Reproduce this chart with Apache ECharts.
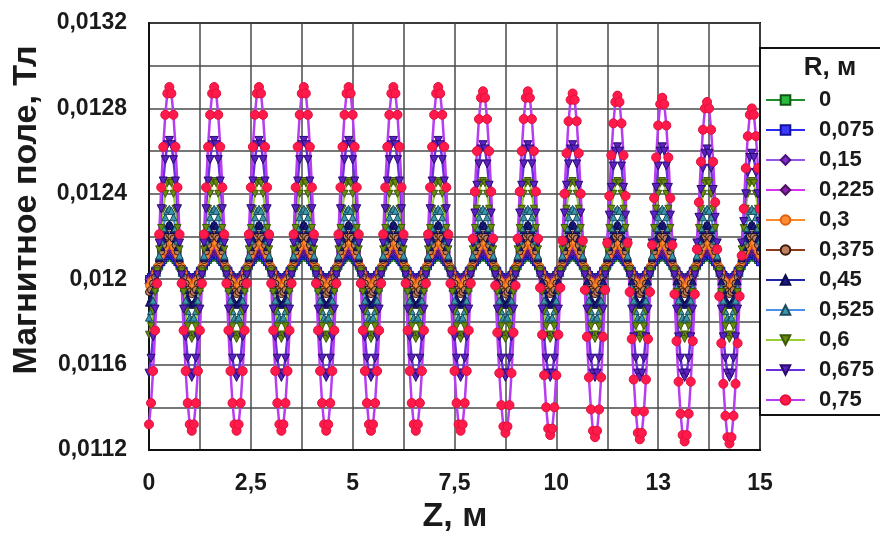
<!DOCTYPE html>
<html>
<head>
<meta charset="utf-8">
<title>Магнитное поле</title>
<script src="https://cdn.jsdelivr.net/npm/echarts@6/dist/echarts.min.js"></script>
<style>
html,body{margin:0;padding:0;background:#fff;}
#chart{width:880px;height:533px;}
</style>
</head>
<body>
<div id="chart"></div>
<script>
// Z, м (шаг 0,05)
const zValues = [
0,0.05,0.1,0.15,0.2,0.25,0.3,0.35,0.4,0.45,0.5,0.55,0.6,0.65,0.7,0.75,0.8,0.85,0.9,0.95,
1,1.05,1.1,1.15,1.2,1.25,1.3,1.35,1.4,1.45,1.5,1.55,1.6,1.65,1.7,1.75,1.8,1.85,1.9,1.95,
2,2.05,2.1,2.15,2.2,2.25,2.3,2.35,2.4,2.45,2.5,2.55,2.6,2.65,2.7,2.75,2.8,2.85,2.9,2.95,
3,3.05,3.1,3.15,3.2,3.25,3.3,3.35,3.4,3.45,3.5,3.55,3.6,3.65,3.7,3.75,3.8,3.85,3.9,3.95,
4,4.05,4.1,4.15,4.2,4.25,4.3,4.35,4.4,4.45,4.5,4.55,4.6,4.65,4.7,4.75,4.8,4.85,4.9,4.95,
5,5.05,5.1,5.15,5.2,5.25,5.3,5.35,5.4,5.45,5.5,5.55,5.6,5.65,5.7,5.75,5.8,5.85,5.9,5.95,
6,6.05,6.1,6.15,6.2,6.25,6.3,6.35,6.4,6.45,6.5,6.55,6.6,6.65,6.7,6.75,6.8,6.85,6.9,6.95,
7,7.05,7.1,7.15,7.2,7.25,7.3,7.35,7.4,7.45,7.5,7.55,7.6,7.65,7.7,7.75,7.8,7.85,7.9,7.95,
8,8.05,8.1,8.15,8.2,8.25,8.3,8.35,8.4,8.45,8.5,8.55,8.6,8.65,8.7,8.75,8.8,8.85,8.9,8.95,
9,9.05,9.1,9.15,9.2,9.25,9.3,9.35,9.4,9.45,9.5,9.55,9.6,9.65,9.7,9.75,9.8,9.85,9.9,9.95,
10,10.05,10.1,10.15,10.2,10.25,10.3,10.35,10.4,10.45,10.5,10.55,10.6,10.65,10.7,10.75,10.8,10.85,10.9,10.95,
11,11.05,11.1,11.15,11.2,11.25,11.3,11.35,11.4,11.45,11.5,11.55,11.6,11.65,11.7,11.75,11.8,11.85,11.9,11.95,
12,12.05,12.1,12.15,12.2,12.25,12.3,12.35,12.4,12.45,12.5,12.55,12.6,12.65,12.7,12.75,12.8,12.85,12.9,12.95,
13,13.05,13.1,13.15,13.2,13.25,13.3,13.35,13.4,13.45,13.5,13.55,13.6,13.65,13.7,13.75,13.8,13.85,13.9,13.95,
14,14.05,14.1,14.15,14.2,14.25,14.3,14.35,14.4,14.45,14.5,14.55,14.6,14.65,14.7,14.75,14.8,14.85,14.9,14.95,
15
];

const seriesNames = ['0', '0,075', '0,15', '0,225', '0,3', '0,375', '0,45', '0,525', '0,6', '0,675', '0,75'];

// Магнитное поле, Тл
const bR000 = [
0.01200,0.01201,0.01202,0.01203,0.01205,0.01206,0.01208,0.01209,0.01210,0.01211,0.01211,0.01211,0.01210,0.01209,0.01208,0.01206,0.01205,0.01203,0.01202,0.01201,0.01200,0.01200,
0.01200,0.01201,0.01202,0.01203,0.01205,0.01206,0.01208,0.01209,0.01210,0.01211,0.01211,0.01211,0.01210,0.01209,0.01208,0.01206,0.01205,0.01203,0.01202,0.01201,0.01200,0.01200,
0.01200,0.01201,0.01202,0.01203,0.01205,0.01206,0.01208,0.01209,0.01210,0.01211,0.01211,0.01211,0.01210,0.01209,0.01208,0.01206,0.01205,0.01203,0.01202,0.01201,0.01200,0.01200,
0.01200,0.01201,0.01202,0.01203,0.01205,0.01206,0.01208,0.01209,0.01210,0.01211,0.01211,0.01211,0.01210,0.01209,0.01208,0.01206,0.01205,0.01203,0.01202,0.01201,0.01200,0.01200,
0.01200,0.01201,0.01202,0.01203,0.01205,0.01206,0.01208,0.01209,0.01210,0.01211,0.01211,0.01211,0.01210,0.01209,0.01208,0.01206,0.01205,0.01203,0.01202,0.01201,0.01200,0.01200,
0.01200,0.01201,0.01202,0.01203,0.01205,0.01206,0.01208,0.01209,0.01210,0.01211,0.01211,0.01211,0.01210,0.01209,0.01208,0.01206,0.01205,0.01203,0.01202,0.01201,0.01200,0.01200,
0.01200,0.01201,0.01202,0.01203,0.01205,0.01206,0.01208,0.01209,0.01210,0.01211,0.01211,0.01211,0.01210,0.01209,0.01208,0.01206,0.01205,0.01203,0.01202,0.01201,0.01200,0.01200,
0.01200,0.01201,0.01202,0.01203,0.01205,0.01206,0.01208,0.01209,0.01210,0.01211,0.01211,0.01211,0.01210,0.01209,0.01208,0.01206,0.01205,0.01203,0.01202,0.01201,0.01200,0.01200,
0.01200,0.01201,0.01202,0.01203,0.01205,0.01206,0.01208,0.01209,0.01210,0.01211,0.01211,0.01211,0.01210,0.01209,0.01208,0.01206,0.01205,0.01203,0.01202,0.01201,0.01200,0.01200,
0.01200,0.01201,0.01202,0.01203,0.01205,0.01206,0.01208,0.01209,0.01210,0.01211,0.01211,0.01211,0.01210,0.01209,0.01208,0.01206,0.01205,0.01203,0.01202,0.01201,0.01200,0.01200,
0.01200,0.01201,0.01202,0.01203,0.01205,0.01206,0.01208,0.01209,0.01210,0.01211,0.01211,0.01211,0.01210,0.01209,0.01208,0.01206,0.01205,0.01203,0.01202,0.01201,0.01200,0.01200,
0.01200,0.01201,0.01202,0.01203,0.01205,0.01206,0.01208,0.01209,0.01210,0.01211,0.01211,0.01211,0.01210,0.01209,0.01208,0.01206,0.01205,0.01203,0.01202,0.01201,0.01200,0.01200,
0.01200,0.01201,0.01202,0.01203,0.01205,0.01206,0.01208,0.01209,0.01210,0.01211,0.01211,0.01211,0.01210,0.01209,0.01208,0.01206,0.01205,0.01203,0.01202,0.01201,0.01200,0.01200,
0.01200,0.01201,0.01202,0.01203,0.01205,0.01206,0.01208,0.01209,0.01210,0.01211,0.01211,0.01211,0.01210,0.01209,0.01208
];
const bR075 = [
0.01200,0.01201,0.01202,0.01204,0.01205,0.01207,0.01208,0.01210,0.01211,0.01212,0.01212,0.01212,0.01211,0.01210,0.01208,0.01207,0.01205,0.01204,0.01202,0.01201,0.01200,0.01200,
0.01200,0.01201,0.01202,0.01204,0.01205,0.01207,0.01208,0.01210,0.01211,0.01212,0.01212,0.01212,0.01211,0.01210,0.01208,0.01207,0.01205,0.01204,0.01202,0.01201,0.01200,0.01200,
0.01200,0.01201,0.01202,0.01204,0.01205,0.01207,0.01208,0.01210,0.01211,0.01212,0.01212,0.01212,0.01211,0.01210,0.01208,0.01207,0.01205,0.01204,0.01202,0.01201,0.01200,0.01200,
0.01200,0.01201,0.01202,0.01204,0.01205,0.01207,0.01208,0.01210,0.01211,0.01212,0.01212,0.01212,0.01211,0.01210,0.01208,0.01207,0.01205,0.01204,0.01202,0.01201,0.01200,0.01200,
0.01200,0.01201,0.01202,0.01204,0.01205,0.01207,0.01208,0.01210,0.01211,0.01212,0.01212,0.01212,0.01211,0.01210,0.01208,0.01207,0.01205,0.01204,0.01202,0.01201,0.01200,0.01200,
0.01200,0.01201,0.01202,0.01204,0.01205,0.01207,0.01208,0.01210,0.01211,0.01212,0.01212,0.01212,0.01211,0.01210,0.01208,0.01207,0.01205,0.01204,0.01202,0.01201,0.01200,0.01200,
0.01200,0.01201,0.01202,0.01204,0.01205,0.01207,0.01208,0.01210,0.01211,0.01212,0.01212,0.01212,0.01211,0.01210,0.01208,0.01207,0.01205,0.01204,0.01202,0.01201,0.01200,0.01200,
0.01200,0.01201,0.01202,0.01204,0.01205,0.01207,0.01208,0.01210,0.01211,0.01212,0.01212,0.01212,0.01211,0.01210,0.01208,0.01207,0.01205,0.01204,0.01202,0.01201,0.01200,0.01200,
0.01200,0.01201,0.01202,0.01204,0.01205,0.01207,0.01208,0.01210,0.01211,0.01212,0.01212,0.01212,0.01211,0.01210,0.01208,0.01207,0.01205,0.01204,0.01202,0.01201,0.01200,0.01200,
0.01200,0.01201,0.01202,0.01204,0.01205,0.01207,0.01208,0.01210,0.01211,0.01212,0.01212,0.01212,0.01211,0.01210,0.01208,0.01207,0.01205,0.01204,0.01202,0.01201,0.01200,0.01200,
0.01200,0.01201,0.01202,0.01204,0.01205,0.01207,0.01208,0.01210,0.01211,0.01212,0.01212,0.01212,0.01211,0.01210,0.01208,0.01207,0.01205,0.01204,0.01202,0.01201,0.01200,0.01200,
0.01200,0.01201,0.01202,0.01204,0.01205,0.01207,0.01208,0.01210,0.01211,0.01212,0.01212,0.01212,0.01211,0.01210,0.01208,0.01207,0.01205,0.01204,0.01202,0.01201,0.01200,0.01200,
0.01200,0.01201,0.01202,0.01204,0.01205,0.01207,0.01208,0.01210,0.01211,0.01212,0.01212,0.01212,0.01211,0.01210,0.01208,0.01207,0.01205,0.01204,0.01202,0.01201,0.01200,0.01200,
0.01200,0.01201,0.01202,0.01204,0.01205,0.01207,0.01208,0.01210,0.01211,0.01212,0.01212,0.01212,0.01211,0.01210,0.01208
];
const bR150 = [
0.01200,0.01201,0.01202,0.01204,0.01206,0.01207,0.01209,0.01211,0.01212,0.01213,0.01213,0.01213,0.01212,0.01211,0.01209,0.01207,0.01206,0.01204,0.01202,0.01201,0.01200,0.01200,
0.01200,0.01201,0.01202,0.01204,0.01206,0.01207,0.01209,0.01211,0.01212,0.01213,0.01213,0.01213,0.01212,0.01211,0.01209,0.01207,0.01206,0.01204,0.01202,0.01201,0.01200,0.01200,
0.01200,0.01201,0.01202,0.01204,0.01206,0.01207,0.01209,0.01211,0.01212,0.01213,0.01213,0.01213,0.01212,0.01211,0.01209,0.01207,0.01206,0.01204,0.01202,0.01201,0.01200,0.01200,
0.01200,0.01201,0.01202,0.01204,0.01206,0.01207,0.01209,0.01211,0.01212,0.01213,0.01213,0.01213,0.01212,0.01211,0.01209,0.01207,0.01206,0.01204,0.01202,0.01201,0.01200,0.01200,
0.01200,0.01201,0.01202,0.01204,0.01206,0.01207,0.01209,0.01211,0.01212,0.01213,0.01213,0.01213,0.01212,0.01211,0.01209,0.01207,0.01206,0.01204,0.01202,0.01201,0.01200,0.01200,
0.01200,0.01201,0.01202,0.01204,0.01206,0.01207,0.01209,0.01211,0.01212,0.01213,0.01213,0.01213,0.01212,0.01211,0.01209,0.01207,0.01206,0.01204,0.01202,0.01201,0.01200,0.01200,
0.01200,0.01201,0.01202,0.01204,0.01206,0.01207,0.01209,0.01211,0.01212,0.01213,0.01213,0.01213,0.01212,0.01211,0.01209,0.01207,0.01206,0.01204,0.01202,0.01201,0.01200,0.01200,
0.01200,0.01201,0.01202,0.01204,0.01206,0.01207,0.01209,0.01211,0.01212,0.01213,0.01213,0.01213,0.01212,0.01211,0.01209,0.01207,0.01206,0.01204,0.01202,0.01201,0.01200,0.01200,
0.01200,0.01201,0.01202,0.01204,0.01206,0.01207,0.01209,0.01211,0.01212,0.01213,0.01213,0.01213,0.01212,0.01211,0.01209,0.01207,0.01206,0.01204,0.01202,0.01201,0.01200,0.01200,
0.01200,0.01201,0.01202,0.01204,0.01206,0.01207,0.01209,0.01211,0.01212,0.01213,0.01213,0.01213,0.01212,0.01211,0.01209,0.01207,0.01206,0.01204,0.01202,0.01201,0.01200,0.01200,
0.01200,0.01201,0.01202,0.01204,0.01206,0.01207,0.01209,0.01211,0.01212,0.01213,0.01213,0.01213,0.01212,0.01211,0.01209,0.01207,0.01206,0.01204,0.01202,0.01201,0.01200,0.01200,
0.01200,0.01201,0.01202,0.01204,0.01206,0.01207,0.01209,0.01211,0.01212,0.01213,0.01213,0.01213,0.01212,0.01211,0.01209,0.01207,0.01206,0.01204,0.01202,0.01201,0.01200,0.01200,
0.01200,0.01201,0.01202,0.01204,0.01206,0.01207,0.01209,0.01211,0.01212,0.01213,0.01213,0.01213,0.01212,0.01211,0.01209,0.01207,0.01206,0.01204,0.01202,0.01201,0.01200,0.01200,
0.01200,0.01201,0.01202,0.01204,0.01206,0.01207,0.01209,0.01211,0.01212,0.01213,0.01213,0.01213,0.01212,0.01211,0.01209
];
const bR225 = [
0.01198,0.01199,0.01201,0.01203,0.01205,0.01207,0.01209,0.01211,0.01213,0.01214,0.01214,0.01214,0.01213,0.01211,0.01209,0.01207,0.01205,0.01203,0.01201,0.01199,0.01198,0.01198,
0.01198,0.01199,0.01201,0.01203,0.01205,0.01207,0.01209,0.01211,0.01213,0.01214,0.01214,0.01214,0.01213,0.01211,0.01209,0.01207,0.01205,0.01203,0.01201,0.01199,0.01198,0.01198,
0.01198,0.01199,0.01201,0.01203,0.01205,0.01207,0.01209,0.01211,0.01213,0.01214,0.01214,0.01214,0.01213,0.01211,0.01209,0.01207,0.01205,0.01203,0.01201,0.01199,0.01198,0.01198,
0.01198,0.01199,0.01201,0.01203,0.01205,0.01207,0.01209,0.01211,0.01213,0.01214,0.01214,0.01214,0.01213,0.01211,0.01209,0.01207,0.01205,0.01203,0.01201,0.01199,0.01198,0.01198,
0.01198,0.01199,0.01201,0.01203,0.01205,0.01207,0.01209,0.01211,0.01213,0.01214,0.01214,0.01214,0.01213,0.01211,0.01209,0.01207,0.01205,0.01203,0.01201,0.01199,0.01198,0.01198,
0.01198,0.01199,0.01201,0.01203,0.01205,0.01207,0.01209,0.01211,0.01213,0.01214,0.01214,0.01214,0.01213,0.01211,0.01209,0.01207,0.01205,0.01203,0.01201,0.01199,0.01198,0.01198,
0.01198,0.01199,0.01201,0.01203,0.01205,0.01207,0.01209,0.01211,0.01213,0.01214,0.01214,0.01214,0.01213,0.01211,0.01209,0.01207,0.01205,0.01203,0.01201,0.01199,0.01198,0.01198,
0.01198,0.01199,0.01201,0.01203,0.01205,0.01207,0.01209,0.01211,0.01213,0.01214,0.01214,0.01214,0.01213,0.01211,0.01209,0.01207,0.01205,0.01203,0.01201,0.01199,0.01198,0.01198,
0.01198,0.01199,0.01201,0.01203,0.01205,0.01207,0.01209,0.01211,0.01213,0.01214,0.01214,0.01214,0.01213,0.01211,0.01209,0.01207,0.01205,0.01203,0.01201,0.01199,0.01198,0.01198,
0.01198,0.01199,0.01201,0.01203,0.01205,0.01207,0.01209,0.01211,0.01213,0.01214,0.01214,0.01214,0.01213,0.01211,0.01209,0.01207,0.01205,0.01203,0.01201,0.01199,0.01198,0.01198,
0.01198,0.01199,0.01201,0.01203,0.01205,0.01207,0.01209,0.01211,0.01213,0.01214,0.01214,0.01214,0.01213,0.01211,0.01209,0.01207,0.01205,0.01203,0.01201,0.01199,0.01198,0.01198,
0.01198,0.01199,0.01201,0.01203,0.01205,0.01207,0.01209,0.01211,0.01213,0.01214,0.01214,0.01214,0.01213,0.01211,0.01209,0.01207,0.01205,0.01203,0.01201,0.01199,0.01198,0.01198,
0.01198,0.01199,0.01201,0.01203,0.01205,0.01207,0.01209,0.01211,0.01213,0.01214,0.01214,0.01214,0.01213,0.01211,0.01209,0.01207,0.01205,0.01203,0.01201,0.01199,0.01198,0.01198,
0.01198,0.01199,0.01201,0.01203,0.01205,0.01207,0.01209,0.01211,0.01213,0.01214,0.01214,0.01214,0.01213,0.01211,0.01209
];
const bR300 = [
0.01197,0.01199,0.01200,0.01203,0.01206,0.01208,0.01211,0.01213,0.01215,0.01217,0.01217,0.01217,0.01215,0.01213,0.01211,0.01208,0.01206,0.01203,0.01200,0.01199,0.01197,0.01197,
0.01197,0.01199,0.01200,0.01203,0.01206,0.01208,0.01211,0.01213,0.01215,0.01217,0.01217,0.01217,0.01215,0.01213,0.01211,0.01208,0.01206,0.01203,0.01200,0.01199,0.01197,0.01197,
0.01197,0.01199,0.01200,0.01203,0.01206,0.01208,0.01211,0.01213,0.01215,0.01217,0.01217,0.01217,0.01215,0.01213,0.01211,0.01208,0.01206,0.01203,0.01200,0.01199,0.01197,0.01197,
0.01197,0.01199,0.01200,0.01203,0.01206,0.01208,0.01211,0.01213,0.01215,0.01217,0.01217,0.01217,0.01215,0.01213,0.01211,0.01208,0.01206,0.01203,0.01200,0.01199,0.01197,0.01197,
0.01197,0.01199,0.01200,0.01203,0.01206,0.01208,0.01211,0.01213,0.01215,0.01217,0.01217,0.01217,0.01215,0.01213,0.01211,0.01208,0.01206,0.01203,0.01200,0.01199,0.01197,0.01197,
0.01197,0.01199,0.01200,0.01203,0.01206,0.01208,0.01211,0.01213,0.01215,0.01217,0.01217,0.01217,0.01215,0.01213,0.01211,0.01208,0.01206,0.01203,0.01200,0.01199,0.01197,0.01197,
0.01197,0.01199,0.01200,0.01203,0.01206,0.01208,0.01211,0.01213,0.01215,0.01217,0.01217,0.01217,0.01215,0.01213,0.01211,0.01208,0.01206,0.01203,0.01200,0.01199,0.01197,0.01197,
0.01197,0.01199,0.01200,0.01203,0.01206,0.01208,0.01211,0.01213,0.01215,0.01217,0.01217,0.01217,0.01215,0.01213,0.01211,0.01208,0.01206,0.01203,0.01200,0.01199,0.01197,0.01197,
0.01197,0.01199,0.01200,0.01203,0.01206,0.01208,0.01211,0.01213,0.01215,0.01217,0.01217,0.01217,0.01215,0.01213,0.01211,0.01208,0.01206,0.01203,0.01200,0.01199,0.01197,0.01197,
0.01197,0.01199,0.01200,0.01203,0.01206,0.01208,0.01211,0.01213,0.01215,0.01217,0.01217,0.01217,0.01215,0.01213,0.01211,0.01208,0.01206,0.01203,0.01200,0.01199,0.01197,0.01197,
0.01197,0.01199,0.01200,0.01203,0.01206,0.01208,0.01211,0.01213,0.01215,0.01217,0.01217,0.01217,0.01215,0.01213,0.01211,0.01208,0.01206,0.01203,0.01200,0.01199,0.01197,0.01197,
0.01197,0.01199,0.01200,0.01203,0.01206,0.01208,0.01211,0.01213,0.01215,0.01217,0.01217,0.01217,0.01215,0.01213,0.01211,0.01208,0.01206,0.01203,0.01200,0.01199,0.01197,0.01197,
0.01197,0.01199,0.01200,0.01203,0.01206,0.01208,0.01211,0.01213,0.01215,0.01217,0.01217,0.01217,0.01215,0.01213,0.01211,0.01208,0.01206,0.01203,0.01200,0.01199,0.01197,0.01197,
0.01197,0.01199,0.01200,0.01203,0.01206,0.01208,0.01211,0.01213,0.01215,0.01217,0.01217,0.01217,0.01215,0.01213,0.01211
];
const bR375 = [
0.01194,0.01195,0.01198,0.01201,0.01205,0.01209,0.01213,0.01216,0.01219,0.01220,0.01221,0.01220,0.01219,0.01216,0.01213,0.01209,0.01205,0.01201,0.01198,0.01195,0.01194,0.01193,
0.01194,0.01195,0.01198,0.01201,0.01205,0.01209,0.01213,0.01216,0.01219,0.01220,0.01221,0.01220,0.01219,0.01216,0.01213,0.01209,0.01205,0.01201,0.01198,0.01195,0.01194,0.01193,
0.01194,0.01195,0.01198,0.01201,0.01205,0.01209,0.01213,0.01216,0.01219,0.01220,0.01221,0.01220,0.01219,0.01216,0.01213,0.01209,0.01205,0.01201,0.01198,0.01195,0.01194,0.01193,
0.01194,0.01195,0.01198,0.01201,0.01205,0.01209,0.01213,0.01216,0.01219,0.01220,0.01221,0.01220,0.01219,0.01216,0.01213,0.01209,0.01205,0.01201,0.01198,0.01195,0.01194,0.01193,
0.01194,0.01195,0.01198,0.01201,0.01205,0.01209,0.01213,0.01216,0.01219,0.01220,0.01221,0.01220,0.01219,0.01216,0.01213,0.01209,0.01205,0.01201,0.01198,0.01195,0.01194,0.01193,
0.01194,0.01195,0.01198,0.01201,0.01205,0.01209,0.01213,0.01216,0.01219,0.01220,0.01221,0.01220,0.01219,0.01216,0.01213,0.01209,0.01205,0.01201,0.01198,0.01195,0.01194,0.01193,
0.01194,0.01195,0.01198,0.01201,0.01205,0.01209,0.01213,0.01216,0.01219,0.01220,0.01221,0.01220,0.01219,0.01216,0.01213,0.01209,0.01205,0.01201,0.01198,0.01195,0.01194,0.01193,
0.01194,0.01195,0.01198,0.01201,0.01205,0.01209,0.01213,0.01216,0.01219,0.01220,0.01221,0.01220,0.01219,0.01216,0.01213,0.01209,0.01205,0.01201,0.01198,0.01195,0.01194,0.01193,
0.01194,0.01195,0.01198,0.01201,0.01205,0.01209,0.01213,0.01216,0.01219,0.01220,0.01221,0.01220,0.01219,0.01216,0.01213,0.01209,0.01205,0.01201,0.01198,0.01195,0.01194,0.01193,
0.01194,0.01195,0.01198,0.01201,0.01205,0.01209,0.01213,0.01216,0.01219,0.01220,0.01221,0.01220,0.01219,0.01216,0.01213,0.01209,0.01205,0.01201,0.01198,0.01195,0.01194,0.01193,
0.01194,0.01195,0.01198,0.01201,0.01205,0.01209,0.01213,0.01216,0.01219,0.01220,0.01221,0.01220,0.01219,0.01216,0.01213,0.01209,0.01205,0.01201,0.01198,0.01195,0.01194,0.01193,
0.01194,0.01195,0.01198,0.01201,0.01205,0.01209,0.01213,0.01216,0.01219,0.01220,0.01221,0.01220,0.01219,0.01216,0.01213,0.01209,0.01205,0.01201,0.01198,0.01195,0.01194,0.01193,
0.01194,0.01195,0.01198,0.01201,0.01205,0.01209,0.01213,0.01216,0.01219,0.01220,0.01221,0.01220,0.01219,0.01216,0.01213,0.01209,0.01205,0.01201,0.01198,0.01195,0.01194,0.01193,
0.01194,0.01195,0.01198,0.01201,0.01205,0.01209,0.01213,0.01216,0.01219,0.01220,0.01221,0.01220,0.01219,0.01216,0.01213
];
const bR450 = [
0.01189,0.01191,0.01195,0.01199,0.01204,0.01210,0.01215,0.01219,0.01223,0.01225,0.01226,0.01225,0.01223,0.01219,0.01215,0.01210,0.01204,0.01199,0.01195,0.01191,0.01189,0.01188,
0.01189,0.01191,0.01195,0.01199,0.01204,0.01210,0.01215,0.01219,0.01223,0.01225,0.01226,0.01225,0.01223,0.01219,0.01215,0.01210,0.01204,0.01199,0.01195,0.01191,0.01189,0.01188,
0.01189,0.01191,0.01195,0.01199,0.01204,0.01210,0.01215,0.01219,0.01223,0.01225,0.01226,0.01225,0.01223,0.01219,0.01215,0.01210,0.01204,0.01199,0.01195,0.01191,0.01189,0.01188,
0.01189,0.01191,0.01195,0.01199,0.01204,0.01210,0.01215,0.01219,0.01223,0.01225,0.01226,0.01225,0.01223,0.01219,0.01215,0.01210,0.01204,0.01199,0.01195,0.01191,0.01189,0.01188,
0.01189,0.01191,0.01195,0.01199,0.01204,0.01210,0.01215,0.01219,0.01223,0.01225,0.01226,0.01225,0.01223,0.01219,0.01215,0.01210,0.01204,0.01199,0.01195,0.01191,0.01189,0.01188,
0.01189,0.01191,0.01195,0.01199,0.01204,0.01210,0.01215,0.01219,0.01223,0.01225,0.01226,0.01225,0.01223,0.01219,0.01215,0.01210,0.01204,0.01199,0.01195,0.01191,0.01189,0.01188,
0.01189,0.01191,0.01195,0.01199,0.01204,0.01210,0.01215,0.01219,0.01223,0.01225,0.01226,0.01225,0.01223,0.01219,0.01215,0.01210,0.01204,0.01199,0.01195,0.01191,0.01189,0.01188,
0.01189,0.01191,0.01195,0.01199,0.01204,0.01210,0.01215,0.01219,0.01223,0.01225,0.01226,0.01225,0.01223,0.01219,0.01215,0.01210,0.01204,0.01199,0.01195,0.01191,0.01189,0.01188,
0.01189,0.01191,0.01195,0.01199,0.01204,0.01210,0.01215,0.01219,0.01223,0.01225,0.01226,0.01225,0.01223,0.01219,0.01215,0.01210,0.01204,0.01199,0.01195,0.01191,0.01189,0.01188,
0.01189,0.01191,0.01195,0.01199,0.01204,0.01210,0.01215,0.01219,0.01223,0.01225,0.01226,0.01225,0.01223,0.01219,0.01215,0.01210,0.01204,0.01199,0.01195,0.01191,0.01189,0.01188,
0.01189,0.01191,0.01195,0.01199,0.01204,0.01210,0.01215,0.01219,0.01223,0.01225,0.01226,0.01225,0.01223,0.01219,0.01215,0.01210,0.01204,0.01199,0.01195,0.01191,0.01189,0.01188,
0.01189,0.01191,0.01195,0.01199,0.01204,0.01210,0.01215,0.01219,0.01223,0.01225,0.01226,0.01225,0.01223,0.01219,0.01215,0.01210,0.01204,0.01199,0.01195,0.01191,0.01189,0.01188,
0.01189,0.01191,0.01195,0.01199,0.01204,0.01210,0.01215,0.01219,0.01223,0.01225,0.01226,0.01225,0.01223,0.01219,0.01215,0.01210,0.01204,0.01199,0.01195,0.01191,0.01189,0.01188,
0.01189,0.01191,0.01195,0.01199,0.01204,0.01210,0.01215,0.01219,0.01223,0.01225,0.01226,0.01225,0.01223,0.01219,0.01215
];
const bR525 = [
0.01182,0.01185,0.01190,0.01196,0.01203,0.01211,0.01218,0.01224,0.01229,0.01232,0.01233,0.01232,0.01229,0.01224,0.01218,0.01211,0.01203,0.01196,0.01190,0.01185,0.01182,0.01181,
0.01182,0.01185,0.01190,0.01196,0.01203,0.01211,0.01218,0.01224,0.01229,0.01232,0.01233,0.01232,0.01229,0.01224,0.01218,0.01211,0.01203,0.01196,0.01190,0.01185,0.01182,0.01181,
0.01182,0.01185,0.01190,0.01196,0.01203,0.01211,0.01218,0.01224,0.01229,0.01232,0.01233,0.01232,0.01229,0.01224,0.01218,0.01211,0.01203,0.01196,0.01190,0.01185,0.01182,0.01181,
0.01182,0.01185,0.01190,0.01196,0.01203,0.01211,0.01218,0.01224,0.01229,0.01232,0.01233,0.01232,0.01229,0.01224,0.01218,0.01211,0.01203,0.01196,0.01190,0.01185,0.01182,0.01181,
0.01182,0.01185,0.01190,0.01196,0.01203,0.01211,0.01218,0.01224,0.01229,0.01232,0.01233,0.01232,0.01229,0.01224,0.01218,0.01211,0.01203,0.01196,0.01190,0.01185,0.01182,0.01181,
0.01182,0.01185,0.01190,0.01196,0.01203,0.01211,0.01218,0.01224,0.01229,0.01232,0.01233,0.01232,0.01229,0.01224,0.01218,0.01211,0.01203,0.01196,0.01190,0.01185,0.01182,0.01181,
0.01182,0.01185,0.01190,0.01196,0.01203,0.01211,0.01218,0.01224,0.01229,0.01232,0.01233,0.01232,0.01229,0.01224,0.01218,0.01211,0.01203,0.01196,0.01190,0.01185,0.01182,0.01181,
0.01182,0.01185,0.01190,0.01196,0.01203,0.01211,0.01218,0.01224,0.01229,0.01232,0.01233,0.01232,0.01229,0.01224,0.01218,0.01211,0.01203,0.01196,0.01190,0.01185,0.01182,0.01181,
0.01182,0.01185,0.01190,0.01196,0.01203,0.01211,0.01218,0.01224,0.01229,0.01232,0.01233,0.01232,0.01229,0.01224,0.01218,0.01211,0.01203,0.01196,0.01190,0.01185,0.01182,0.01181,
0.01182,0.01185,0.01190,0.01196,0.01203,0.01211,0.01218,0.01224,0.01229,0.01232,0.01233,0.01232,0.01229,0.01224,0.01218,0.01211,0.01203,0.01196,0.01190,0.01185,0.01182,0.01181,
0.01182,0.01185,0.01190,0.01196,0.01203,0.01211,0.01218,0.01224,0.01229,0.01232,0.01233,0.01232,0.01229,0.01224,0.01218,0.01211,0.01203,0.01196,0.01190,0.01185,0.01182,0.01181,
0.01182,0.01185,0.01190,0.01196,0.01203,0.01211,0.01218,0.01224,0.01229,0.01232,0.01233,0.01232,0.01229,0.01224,0.01218,0.01211,0.01203,0.01196,0.01190,0.01185,0.01182,0.01181,
0.01182,0.01185,0.01190,0.01196,0.01203,0.01211,0.01218,0.01224,0.01229,0.01232,0.01233,0.01232,0.01229,0.01224,0.01218,0.01211,0.01203,0.01196,0.01190,0.01185,0.01182,0.01181,
0.01182,0.01185,0.01190,0.01196,0.01203,0.01211,0.01218,0.01224,0.01229,0.01232,0.01233,0.01232,0.01229,0.01224,0.01218
];
const bR600 = [
0.01174,0.01178,0.01185,0.01194,0.01204,0.01214,0.01224,0.01233,0.01240,0.01245,0.01246,0.01245,0.01240,0.01233,0.01224,0.01214,0.01204,0.01194,0.01185,0.01178,0.01174,0.01172,
0.01174,0.01178,0.01185,0.01194,0.01204,0.01214,0.01224,0.01233,0.01240,0.01245,0.01246,0.01245,0.01240,0.01233,0.01224,0.01214,0.01204,0.01194,0.01185,0.01178,0.01174,0.01172,
0.01174,0.01178,0.01185,0.01194,0.01204,0.01214,0.01224,0.01233,0.01240,0.01245,0.01246,0.01245,0.01240,0.01233,0.01224,0.01214,0.01204,0.01194,0.01185,0.01178,0.01174,0.01172,
0.01174,0.01178,0.01185,0.01194,0.01204,0.01214,0.01224,0.01233,0.01240,0.01245,0.01246,0.01245,0.01240,0.01233,0.01224,0.01214,0.01204,0.01194,0.01185,0.01178,0.01174,0.01172,
0.01174,0.01178,0.01185,0.01194,0.01204,0.01214,0.01224,0.01233,0.01240,0.01245,0.01246,0.01245,0.01240,0.01233,0.01224,0.01214,0.01204,0.01194,0.01185,0.01178,0.01174,0.01172,
0.01174,0.01178,0.01185,0.01194,0.01204,0.01214,0.01224,0.01233,0.01240,0.01245,0.01246,0.01245,0.01240,0.01233,0.01224,0.01214,0.01204,0.01194,0.01185,0.01178,0.01174,0.01172,
0.01174,0.01178,0.01185,0.01194,0.01204,0.01214,0.01224,0.01233,0.01240,0.01245,0.01246,0.01245,0.01240,0.01233,0.01224,0.01214,0.01204,0.01194,0.01185,0.01178,0.01174,0.01172,
0.01174,0.01178,0.01185,0.01194,0.01204,0.01214,0.01224,0.01233,0.01240,0.01245,0.01246,0.01245,0.01240,0.01233,0.01224,0.01214,0.01204,0.01194,0.01185,0.01178,0.01174,0.01172,
0.01174,0.01178,0.01185,0.01194,0.01204,0.01214,0.01224,0.01233,0.01240,0.01245,0.01246,0.01245,0.01240,0.01233,0.01224,0.01214,0.01204,0.01194,0.01185,0.01178,0.01174,0.01172,
0.01174,0.01178,0.01185,0.01194,0.01204,0.01214,0.01224,0.01233,0.01240,0.01245,0.01246,0.01245,0.01240,0.01233,0.01224,0.01214,0.01204,0.01194,0.01185,0.01178,0.01174,0.01172,
0.01174,0.01178,0.01185,0.01194,0.01204,0.01214,0.01224,0.01233,0.01240,0.01245,0.01246,0.01245,0.01240,0.01233,0.01224,0.01214,0.01204,0.01194,0.01185,0.01178,0.01174,0.01172,
0.01174,0.01178,0.01185,0.01194,0.01204,0.01214,0.01224,0.01233,0.01240,0.01245,0.01246,0.01245,0.01240,0.01233,0.01224,0.01214,0.01204,0.01194,0.01185,0.01178,0.01174,0.01172,
0.01174,0.01178,0.01185,0.01194,0.01204,0.01214,0.01224,0.01233,0.01240,0.01245,0.01246,0.01245,0.01240,0.01233,0.01224,0.01214,0.01204,0.01194,0.01185,0.01178,0.01174,0.01172,
0.01174,0.01178,0.01185,0.01194,0.01204,0.01214,0.01224,0.01233,0.01240,0.01245,0.01246,0.01245,0.01240,0.01233,0.01224
];
const bR675 = [
0.01156,0.01163,0.01173,0.01186,0.01202,0.01217,0.01233,0.01246,0.01256,0.01263,0.01265,0.01263,0.01256,0.01246,0.01233,0.01217,0.01202,0.01186,0.01173,0.01163,0.01156,0.01154,
0.01156,0.01163,0.01173,0.01186,0.01202,0.01217,0.01233,0.01246,0.01256,0.01263,0.01265,0.01263,0.01256,0.01246,0.01233,0.01217,0.01202,0.01186,0.01173,0.01163,0.01156,0.01154,
0.01156,0.01163,0.01173,0.01186,0.01202,0.01217,0.01233,0.01246,0.01256,0.01263,0.01265,0.01263,0.01256,0.01246,0.01233,0.01217,0.01202,0.01186,0.01173,0.01163,0.01156,0.01154,
0.01156,0.01163,0.01173,0.01186,0.01202,0.01217,0.01233,0.01246,0.01256,0.01263,0.01265,0.01263,0.01256,0.01246,0.01233,0.01217,0.01202,0.01186,0.01173,0.01163,0.01156,0.01154,
0.01156,0.01163,0.01173,0.01186,0.01202,0.01217,0.01233,0.01246,0.01256,0.01263,0.01265,0.01263,0.01256,0.01246,0.01233,0.01217,0.01202,0.01186,0.01173,0.01163,0.01156,0.01154,
0.01156,0.01163,0.01173,0.01186,0.01202,0.01217,0.01233,0.01246,0.01256,0.01263,0.01265,0.01263,0.01256,0.01246,0.01233,0.01217,0.01202,0.01186,0.01173,0.01163,0.01156,0.01154,
0.01156,0.01163,0.01173,0.01186,0.01202,0.01217,0.01233,0.01246,0.01256,0.01263,0.01265,0.01263,0.01256,0.01246,0.01233,0.01217,0.01202,0.01186,0.01173,0.01163,0.01156,0.01154,
0.01156,0.01163,0.01173,0.01186,0.01202,0.01217,0.01231,0.01244,0.01254,0.01261,0.01263,0.01261,0.01254,0.01244,0.01231,0.01217,0.01202,0.01186,0.01173,0.01163,0.01156,0.01154,
0.01156,0.01163,0.01173,0.01186,0.01202,0.01217,0.01231,0.01244,0.01254,0.01261,0.01263,0.01261,0.01254,0.01244,0.01231,0.01217,0.01202,0.01186,0.01173,0.01163,0.01156,0.01154,
0.01156,0.01163,0.01173,0.01186,0.01202,0.01217,0.01231,0.01244,0.01254,0.01261,0.01263,0.01261,0.01254,0.01244,0.01231,0.01217,0.01202,0.01186,0.01173,0.01163,0.01156,0.01154,
0.01156,0.01163,0.01173,0.01186,0.01202,0.01217,0.01230,0.01243,0.01253,0.01260,0.01262,0.01260,0.01253,0.01243,0.01230,0.01217,0.01202,0.01186,0.01173,0.01163,0.01156,0.01154,
0.01156,0.01163,0.01173,0.01186,0.01202,0.01217,0.01230,0.01243,0.01253,0.01260,0.01262,0.01260,0.01253,0.01243,0.01230,0.01217,0.01202,0.01186,0.01173,0.01163,0.01156,0.01154,
0.01156,0.01163,0.01173,0.01186,0.01202,0.01217,0.01229,0.01242,0.01252,0.01259,0.01261,0.01259,0.01252,0.01242,0.01229,0.01217,0.01202,0.01186,0.01173,0.01163,0.01156,0.01154,
0.01156,0.01163,0.01173,0.01186,0.01202,0.01217,0.01227,0.01240,0.01250,0.01257,0.01259,0.01257,0.01250,0.01240,0.01227
];
const bR750 = [
0.01132,0.01142,0.01157,0.01176,0.01198,0.01221,0.01243,0.01262,0.01277,0.01287,0.01290,0.01287,0.01277,0.01262,0.01243,0.01221,0.01198,0.01176,0.01157,0.01142,0.01132,0.01129,
0.01132,0.01142,0.01157,0.01176,0.01198,0.01221,0.01243,0.01262,0.01277,0.01287,0.01290,0.01287,0.01277,0.01262,0.01243,0.01221,0.01198,0.01176,0.01157,0.01142,0.01132,0.01129,
0.01132,0.01142,0.01157,0.01176,0.01198,0.01221,0.01243,0.01262,0.01277,0.01287,0.01290,0.01287,0.01277,0.01262,0.01243,0.01221,0.01198,0.01176,0.01157,0.01142,0.01132,0.01129,
0.01132,0.01142,0.01157,0.01176,0.01198,0.01221,0.01243,0.01262,0.01277,0.01287,0.01290,0.01287,0.01277,0.01262,0.01243,0.01221,0.01198,0.01176,0.01157,0.01142,0.01132,0.01129,
0.01132,0.01142,0.01157,0.01176,0.01198,0.01221,0.01243,0.01262,0.01277,0.01287,0.01290,0.01287,0.01277,0.01262,0.01243,0.01221,0.01198,0.01176,0.01157,0.01142,0.01132,0.01129,
0.01132,0.01142,0.01157,0.01176,0.01198,0.01221,0.01243,0.01262,0.01277,0.01287,0.01290,0.01287,0.01277,0.01262,0.01243,0.01221,0.01198,0.01176,0.01157,0.01142,0.01132,0.01129,
0.01132,0.01142,0.01157,0.01176,0.01198,0.01221,0.01243,0.01262,0.01277,0.01287,0.01290,0.01287,0.01277,0.01262,0.01243,0.01221,0.01198,0.01176,0.01157,0.01142,0.01132,0.01129,
0.01132,0.01142,0.01157,0.01176,0.01198,0.01219,0.01241,0.01260,0.01275,0.01285,0.01288,0.01285,0.01275,0.01260,0.01241,0.01219,0.01197,0.01175,0.01156,0.01141,0.01131,0.01128,
0.01131,0.01141,0.01156,0.01175,0.01197,0.01219,0.01241,0.01260,0.01275,0.01285,0.01288,0.01285,0.01275,0.01260,0.01241,0.01219,0.01196,0.01174,0.01155,0.01140,0.01130,0.01127,
0.01130,0.01140,0.01155,0.01174,0.01196,0.01218,0.01240,0.01259,0.01274,0.01284,0.01287,0.01284,0.01274,0.01259,0.01240,0.01218,0.01195,0.01173,0.01154,0.01139,0.01129,0.01126,
0.01129,0.01139,0.01154,0.01173,0.01195,0.01217,0.01239,0.01258,0.01273,0.01283,0.01286,0.01283,0.01273,0.01258,0.01239,0.01217,0.01194,0.01172,0.01153,0.01138,0.01128,0.01125,
0.01128,0.01138,0.01153,0.01172,0.01194,0.01216,0.01238,0.01257,0.01272,0.01282,0.01285,0.01282,0.01272,0.01257,0.01238,0.01216,0.01193,0.01171,0.01152,0.01137,0.01127,0.01124,
0.01127,0.01137,0.01152,0.01171,0.01193,0.01214,0.01236,0.01255,0.01270,0.01280,0.01283,0.01280,0.01270,0.01255,0.01236,0.01214,0.01192,0.01170,0.01151,0.01136,0.01126,0.01123,
0.01126,0.01136,0.01151,0.01170,0.01192,0.01211,0.01233,0.01252,0.01267,0.01277,0.01280,0.01277,0.01267,0.01252,0.01233
];

const seriesValues = [bR000, bR075, bR150, bR225, bR300, bR375, bR450, bR525, bR600, bR675, bR750];

const xTickVals = [0, 2.5, 5, 7.5, 10, 12.5, 15];
const xTickLabels = ['0', '2,5', '5', '7,5', '10', '13', '15'];
const yTickVals = [0.0112, 0.0116, 0.012, 0.0124, 0.0128, 0.0132];
const yTickLabels = ['0,0112', '0,0116', '0,012', '0,0124', '0,0128', '0,0132'];

const FONT = '"Liberation Sans", Arial, sans-serif';

// line, marker fill, marker border, symbol, rotate, size, line width
const looks = [
  ['#1e8c2e', '#2db83d', '#0b5716', 'rect', 0, 7, 2],
  ['#2b2bef', '#3a3aff', '#12129a', 'rect', 0, 7, 2],
  ['#9a55e6', '#7a30c0', '#4a1080', 'diamond', 0, 8, 2],
  ['#d535f0', '#8a20b0', '#501060', 'diamond', 0, 8, 2],
  ['#ff8a2a', '#ff8c30', '#e06010', 'circle', 0, 7, 2],
  ['#8e3b1c', '#c08060', '#3a1a0a', 'circle', 0, 7, 2],
  ['#2424a8', '#1a1a80', '#0a0a50', 'triangle', 0, 7, 2],
  ['#4a90e8', '#3a9aaa', '#1a4a60', 'triangle', 0, 7, 2],
  ['#9acd32', '#6a8a10', '#3a5a00', 'triangle', 180, 7, 2],
  ['#6a2ee0', '#5a22c0', '#2a0a70', 'triangle', 180, 8, 2.5],
  ['#b83cf0', '#ff1a4b', '#e0103a', 'circle', 0, 9, 2.5]
];

function pickLabel(vals, labels, v) {
  for (let i = 0; i < vals.length; i++) {
    if (Math.abs(vals[i] - v) < 1e-7) return labels[i];
  }
  return '';
}

const chart = echarts.init(document.getElementById('chart'), null, {renderer: 'canvas'});

const option = {
  animation: false,
  backgroundColor: '#fff',
  grid: {
    left: 149, right: 120, top: 23, bottom: 83,
    show: true, borderColor: '#111', borderWidth: 2, backgroundColor: '#fff'
  },
  xAxis: {
    type: 'value', min: 0, max: 15, interval: 1.25,
    axisLine: {onZero: false, lineStyle: {color: '#111', width: 2}},
    axisTick: {show: false},
    splitLine: {show: true, lineStyle: {color: '#4a4a4a', width: 1.5}},
    axisLabel: {
      margin: 22, fontSize: 23, fontWeight: 'bold', color: '#1a1a1a', fontFamily: FONT,
      hideOverlap: false, showMinLabel: true, showMaxLabel: true,
      formatter: function (v) { return pickLabel(xTickVals, xTickLabels, v); }
    }
  },
  yAxis: {
    type: 'value', min: 0.0112, max: 0.0132, interval: 0.0002,
    axisLine: {show: true, lineStyle: {color: '#111', width: 2}},
    axisTick: {show: false},
    splitLine: {show: true, lineStyle: {color: '#4a4a4a', width: 1.5}},
    axisLabel: {
      margin: 22, fontSize: 23, fontWeight: 'bold', color: '#1a1a1a', fontFamily: FONT,
      showMinLabel: true, showMaxLabel: true,
      formatter: function (v) { return pickLabel(yTickVals, yTickLabels, v); }
    }
  },
  legend: {
    orient: 'vertical', left: 760, top: 48,
    padding: [41, 20, 4, 5],
    itemWidth: 39, itemHeight: 12, itemGap: 8,
    borderColor: '#111', borderWidth: 2, backgroundColor: '#fff',
    textStyle: {fontFamily: FONT, fontSize: 22, fontWeight: 'bold', color: '#1a1a1a', lineHeight: 22, padding: [0, 0, 0, 9]},
    data: seriesNames
  },
  graphic: [
    {type: 'text', x: 27, y: 210, rotation: Math.PI / 2,
      style: {text: 'Магнитное поле, Тл', fontSize: 34, fontWeight: 'bold', fontFamily: FONT, fill: '#1a1a1a', align: 'center', verticalAlign: 'middle'}},
    {type: 'text', x: 455, y: 517,
      style: {text: 'Z, м', fontSize: 34, fontWeight: 'bold', fontFamily: FONT, fill: '#1a1a1a', align: 'center', verticalAlign: 'middle'}},
    {type: 'text', x: 830, y: 68, z: 100,
      style: {text: 'R, м', fontSize: 26, fontWeight: 'bold', fontFamily: FONT, fill: '#1a1a1a', align: 'center', verticalAlign: 'middle'}}
  ],
  series: seriesValues.map(function (vals, i) {
    const lk = looks[i];
    return {
      name: seriesNames[i],
      type: 'line',
      data: zValues.map(function (z, k) { return [z, vals[k]]; }),
      symbol: lk[3], symbolRotate: lk[4], symbolSize: lk[5],
      showAllSymbol: true,
      lineStyle: {color: lk[0], width: lk[6]},
      itemStyle: {color: lk[1], borderColor: lk[2], borderWidth: 1},
      emphasis: {disabled: true}
    };
  })
};

chart.setOption(option);
</script>
</body>
</html>
